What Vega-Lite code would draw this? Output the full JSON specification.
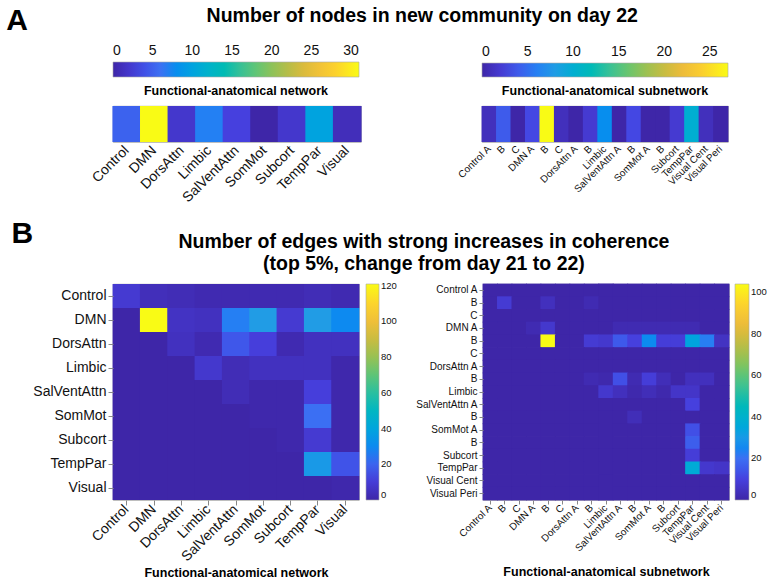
{
  "$schema": "https://vega.github.io/schema/vega-lite/v6.json",
  "background": "white",
  "padding": {"left": 6, "top": 6, "right": 0, "bottom": 0},
  "config": {
    "font": "Liberation Sans",
    "view": {"stroke": "#999", "strokeWidth": 0.8},
    "axis": {"labelColor": "#111", "domainColor": "#888", "tickColor": "#888", "labelFont": "Liberation Sans", "titleFont": "Liberation Sans", "titleColor": "#000"},
    "legend": {"labelColor": "#111", "gradientStrokeColor": "#aaa", "gradientStrokeWidth": 0.6, "labelOverlap": false, "labelFont": "Liberation Sans"},
    "title": {"font": "Liberation Sans", "color": "#000", "fontWeight": "bold"}
  },
  "datasets": {
    "networkNodes": [
      {"network": "Control", "nodes": 5},
      {"network": "DMN", "nodes": 31},
      {"network": "DorsAttn", "nodes": 2},
      {"network": "Limbic", "nodes": 7},
      {"network": "SalVentAttn", "nodes": 3},
      {"network": "SomMot", "nodes": 0},
      {"network": "Subcort", "nodes": 2},
      {"network": "TempPar", "nodes": 10},
      {"network": "Visual", "nodes": 1}
    ],
    "subnetworkNodes": [
      {"subnetwork": "Control A", "nodes": 1},
      {"subnetwork": "Control B", "nodes": 4},
      {"subnetwork": "Control C", "nodes": 0},
      {"subnetwork": "DMN A", "nodes": 3},
      {"subnetwork": "DMN B", "nodes": 27},
      {"subnetwork": "DMN C", "nodes": 1},
      {"subnetwork": "DorsAttn A", "nodes": 0},
      {"subnetwork": "DorsAttn B", "nodes": 2},
      {"subnetwork": "Limbic", "nodes": 7},
      {"subnetwork": "SalVentAttn A", "nodes": 0},
      {"subnetwork": "SalVentAttn B", "nodes": 3},
      {"subnetwork": "SomMot A", "nodes": 0},
      {"subnetwork": "SomMot B", "nodes": 0},
      {"subnetwork": "Subcort", "nodes": 2},
      {"subnetwork": "TempPar", "nodes": 10},
      {"subnetwork": "Visual Cent", "nodes": 1},
      {"subnetwork": "Visual Peri", "nodes": 0}
    ],
    "networkEdges": [
      {"row":0,"col":0,"edges":9},{"row":0,"col":1,"edges":4},{"row":0,"col":2,"edges":3},{"row":0,"col":3,"edges":2},{"row":0,"col":4,"edges":2},{"row":0,"col":5,"edges":2},{"row":0,"col":6,"edges":2},{"row":0,"col":7,"edges":3},{"row":0,"col":8,"edges":2},
      {"row":1,"col":0,"edges":0},{"row":1,"col":1,"edges":121},{"row":1,"col":2,"edges":6},{"row":1,"col":3,"edges":5},{"row":1,"col":4,"edges":27},{"row":1,"col":5,"edges":36},{"row":1,"col":6,"edges":9},{"row":1,"col":7,"edges":36},{"row":1,"col":8,"edges":30},
      {"row":2,"col":0,"edges":0},{"row":2,"col":1,"edges":0},{"row":2,"col":2,"edges":5},{"row":2,"col":3,"edges":2},{"row":2,"col":4,"edges":17},{"row":2,"col":5,"edges":11},{"row":2,"col":6,"edges":2},{"row":2,"col":7,"edges":5},{"row":2,"col":8,"edges":5},
      {"row":3,"col":0,"edges":0},{"row":3,"col":1,"edges":0},{"row":3,"col":2,"edges":0},{"row":3,"col":3,"edges":8},{"row":3,"col":4,"edges":3},{"row":3,"col":5,"edges":5},{"row":3,"col":6,"edges":5},{"row":3,"col":7,"edges":5},{"row":3,"col":8,"edges":1},
      {"row":4,"col":0,"edges":0},{"row":4,"col":1,"edges":0},{"row":4,"col":2,"edges":0},{"row":4,"col":3,"edges":0},{"row":4,"col":4,"edges":3},{"row":4,"col":5,"edges":1},{"row":4,"col":6,"edges":1},{"row":4,"col":7,"edges":11},{"row":4,"col":8,"edges":1},
      {"row":5,"col":0,"edges":0},{"row":5,"col":1,"edges":0},{"row":5,"col":2,"edges":0},{"row":5,"col":3,"edges":0},{"row":5,"col":4,"edges":0},{"row":5,"col":5,"edges":1},{"row":5,"col":6,"edges":1},{"row":5,"col":7,"edges":23},{"row":5,"col":8,"edges":1},
      {"row":6,"col":0,"edges":0},{"row":6,"col":1,"edges":0},{"row":6,"col":2,"edges":0},{"row":6,"col":3,"edges":0},{"row":6,"col":4,"edges":0},{"row":6,"col":5,"edges":0},{"row":6,"col":6,"edges":1},{"row":6,"col":7,"edges":9},{"row":6,"col":8,"edges":1},
      {"row":7,"col":0,"edges":0},{"row":7,"col":1,"edges":0},{"row":7,"col":2,"edges":0},{"row":7,"col":3,"edges":0},{"row":7,"col":4,"edges":0},{"row":7,"col":5,"edges":0},{"row":7,"col":6,"edges":0},{"row":7,"col":7,"edges":35},{"row":7,"col":8,"edges":16},
      {"row":8,"col":0,"edges":0},{"row":8,"col":1,"edges":0},{"row":8,"col":2,"edges":0},{"row":8,"col":3,"edges":0},{"row":8,"col":4,"edges":0},{"row":8,"col":5,"edges":0},{"row":8,"col":6,"edges":0},{"row":8,"col":7,"edges":0},{"row":8,"col":8,"edges":1}
    ],
    "subnetworkEdges": [
      {"row":0,"col":0,"edges":0},{"row":0,"col":1,"edges":0},{"row":0,"col":2,"edges":0},{"row":0,"col":3,"edges":0},{"row":0,"col":4,"edges":0},{"row":0,"col":5,"edges":0},{"row":0,"col":6,"edges":0},{"row":0,"col":7,"edges":0},{"row":0,"col":8,"edges":0},{"row":0,"col":9,"edges":0},{"row":0,"col":10,"edges":0},{"row":0,"col":11,"edges":0},{"row":0,"col":12,"edges":0},{"row":0,"col":13,"edges":0},{"row":0,"col":14,"edges":0},{"row":0,"col":15,"edges":0},{"row":0,"col":16,"edges":0},
      {"row":1,"col":0,"edges":0},{"row":1,"col":1,"edges":8},{"row":1,"col":2,"edges":0},{"row":1,"col":3,"edges":0},{"row":1,"col":4,"edges":4},{"row":1,"col":5,"edges":0},{"row":1,"col":6,"edges":0},{"row":1,"col":7,"edges":2},{"row":1,"col":8,"edges":0},{"row":1,"col":9,"edges":0},{"row":1,"col":10,"edges":0},{"row":1,"col":11,"edges":0},{"row":1,"col":12,"edges":0},{"row":1,"col":13,"edges":0},{"row":1,"col":14,"edges":0},{"row":1,"col":15,"edges":0},{"row":1,"col":16,"edges":0},
      {"row":2,"col":0,"edges":0},{"row":2,"col":1,"edges":0},{"row":2,"col":2,"edges":0},{"row":2,"col":3,"edges":0},{"row":2,"col":4,"edges":0},{"row":2,"col":5,"edges":0},{"row":2,"col":6,"edges":0},{"row":2,"col":7,"edges":0},{"row":2,"col":8,"edges":0},{"row":2,"col":9,"edges":0},{"row":2,"col":10,"edges":0},{"row":2,"col":11,"edges":0},{"row":2,"col":12,"edges":0},{"row":2,"col":13,"edges":0},{"row":2,"col":14,"edges":0},{"row":2,"col":15,"edges":0},{"row":2,"col":16,"edges":0},
      {"row":3,"col":0,"edges":0},{"row":3,"col":1,"edges":0},{"row":3,"col":2,"edges":0},{"row":3,"col":3,"edges":2},{"row":3,"col":4,"edges":7},{"row":3,"col":5,"edges":0},{"row":3,"col":6,"edges":0},{"row":3,"col":7,"edges":0},{"row":3,"col":8,"edges":0},{"row":3,"col":9,"edges":2},{"row":3,"col":10,"edges":2},{"row":3,"col":11,"edges":2},{"row":3,"col":12,"edges":2},{"row":3,"col":13,"edges":2},{"row":3,"col":14,"edges":2},{"row":3,"col":15,"edges":0},{"row":3,"col":16,"edges":0},
      {"row":4,"col":0,"edges":0},{"row":4,"col":1,"edges":0},{"row":4,"col":2,"edges":0},{"row":4,"col":3,"edges":0},{"row":4,"col":4,"edges":104},{"row":4,"col":5,"edges":0},{"row":4,"col":6,"edges":0},{"row":4,"col":7,"edges":8},{"row":4,"col":8,"edges":7},{"row":4,"col":9,"edges":15},{"row":4,"col":10,"edges":10},{"row":4,"col":11,"edges":26},{"row":4,"col":12,"edges":9},{"row":4,"col":13,"edges":9},{"row":4,"col":14,"edges":34},{"row":4,"col":15,"edges":23},{"row":4,"col":16,"edges":5},
      {"row":5,"col":0,"edges":0},{"row":5,"col":1,"edges":0},{"row":5,"col":2,"edges":0},{"row":5,"col":3,"edges":0},{"row":5,"col":4,"edges":0},{"row":5,"col":5,"edges":0},{"row":5,"col":6,"edges":0},{"row":5,"col":7,"edges":0},{"row":5,"col":8,"edges":0},{"row":5,"col":9,"edges":0},{"row":5,"col":10,"edges":0},{"row":5,"col":11,"edges":0},{"row":5,"col":12,"edges":0},{"row":5,"col":13,"edges":0},{"row":5,"col":14,"edges":0},{"row":5,"col":15,"edges":0},{"row":5,"col":16,"edges":0},
      {"row":6,"col":0,"edges":0},{"row":6,"col":1,"edges":0},{"row":6,"col":2,"edges":0},{"row":6,"col":3,"edges":0},{"row":6,"col":4,"edges":0},{"row":6,"col":5,"edges":0},{"row":6,"col":6,"edges":0},{"row":6,"col":7,"edges":0},{"row":6,"col":8,"edges":0},{"row":6,"col":9,"edges":0},{"row":6,"col":10,"edges":0},{"row":6,"col":11,"edges":0},{"row":6,"col":12,"edges":0},{"row":6,"col":13,"edges":0},{"row":6,"col":14,"edges":0},{"row":6,"col":15,"edges":0},{"row":6,"col":16,"edges":0},
      {"row":7,"col":0,"edges":0},{"row":7,"col":1,"edges":0},{"row":7,"col":2,"edges":0},{"row":7,"col":3,"edges":0},{"row":7,"col":4,"edges":0},{"row":7,"col":5,"edges":0},{"row":7,"col":6,"edges":0},{"row":7,"col":7,"edges":2},{"row":7,"col":8,"edges":1},{"row":7,"col":9,"edges":13},{"row":7,"col":10,"edges":2},{"row":7,"col":11,"edges":9},{"row":7,"col":12,"edges":3},{"row":7,"col":13,"edges":0},{"row":7,"col":14,"edges":4},{"row":7,"col":15,"edges":4},{"row":7,"col":16,"edges":0},
      {"row":8,"col":0,"edges":0},{"row":8,"col":1,"edges":0},{"row":8,"col":2,"edges":0},{"row":8,"col":3,"edges":0},{"row":8,"col":4,"edges":0},{"row":8,"col":5,"edges":0},{"row":8,"col":6,"edges":0},{"row":8,"col":7,"edges":0},{"row":8,"col":8,"edges":7},{"row":8,"col":9,"edges":4},{"row":8,"col":10,"edges":1},{"row":8,"col":11,"edges":3},{"row":8,"col":12,"edges":1},{"row":8,"col":13,"edges":6},{"row":8,"col":14,"edges":6},{"row":8,"col":15,"edges":0},{"row":8,"col":16,"edges":0},
      {"row":9,"col":0,"edges":0},{"row":9,"col":1,"edges":0},{"row":9,"col":2,"edges":0},{"row":9,"col":3,"edges":0},{"row":9,"col":4,"edges":0},{"row":9,"col":5,"edges":0},{"row":9,"col":6,"edges":0},{"row":9,"col":7,"edges":0},{"row":9,"col":8,"edges":0},{"row":9,"col":9,"edges":0},{"row":9,"col":10,"edges":0},{"row":9,"col":11,"edges":0},{"row":9,"col":12,"edges":0},{"row":9,"col":13,"edges":0},{"row":9,"col":14,"edges":10},{"row":9,"col":15,"edges":0},{"row":9,"col":16,"edges":0},
      {"row":10,"col":0,"edges":0},{"row":10,"col":1,"edges":0},{"row":10,"col":2,"edges":0},{"row":10,"col":3,"edges":0},{"row":10,"col":4,"edges":0},{"row":10,"col":5,"edges":0},{"row":10,"col":6,"edges":0},{"row":10,"col":7,"edges":0},{"row":10,"col":8,"edges":0},{"row":10,"col":9,"edges":0},{"row":10,"col":10,"edges":3},{"row":10,"col":11,"edges":0},{"row":10,"col":12,"edges":0},{"row":10,"col":13,"edges":0},{"row":10,"col":14,"edges":0},{"row":10,"col":15,"edges":0},{"row":10,"col":16,"edges":0},
      {"row":11,"col":0,"edges":0},{"row":11,"col":1,"edges":0},{"row":11,"col":2,"edges":0},{"row":11,"col":3,"edges":0},{"row":11,"col":4,"edges":0},{"row":11,"col":5,"edges":0},{"row":11,"col":6,"edges":0},{"row":11,"col":7,"edges":0},{"row":11,"col":8,"edges":0},{"row":11,"col":9,"edges":0},{"row":11,"col":10,"edges":0},{"row":11,"col":11,"edges":0},{"row":11,"col":12,"edges":0},{"row":11,"col":13,"edges":0},{"row":11,"col":14,"edges":13},{"row":11,"col":15,"edges":0},{"row":11,"col":16,"edges":0},
      {"row":12,"col":0,"edges":0},{"row":12,"col":1,"edges":0},{"row":12,"col":2,"edges":0},{"row":12,"col":3,"edges":0},{"row":12,"col":4,"edges":0},{"row":12,"col":5,"edges":0},{"row":12,"col":6,"edges":0},{"row":12,"col":7,"edges":0},{"row":12,"col":8,"edges":0},{"row":12,"col":9,"edges":0},{"row":12,"col":10,"edges":0},{"row":12,"col":11,"edges":0},{"row":12,"col":12,"edges":0},{"row":12,"col":13,"edges":0},{"row":12,"col":14,"edges":16},{"row":12,"col":15,"edges":0},{"row":12,"col":16,"edges":0},
      {"row":13,"col":0,"edges":0},{"row":13,"col":1,"edges":0},{"row":13,"col":2,"edges":0},{"row":13,"col":3,"edges":0},{"row":13,"col":4,"edges":0},{"row":13,"col":5,"edges":0},{"row":13,"col":6,"edges":0},{"row":13,"col":7,"edges":0},{"row":13,"col":8,"edges":0},{"row":13,"col":9,"edges":0},{"row":13,"col":10,"edges":0},{"row":13,"col":11,"edges":0},{"row":13,"col":12,"edges":0},{"row":13,"col":13,"edges":0},{"row":13,"col":14,"edges":9},{"row":13,"col":15,"edges":0},{"row":13,"col":16,"edges":0},
      {"row":14,"col":0,"edges":0},{"row":14,"col":1,"edges":0},{"row":14,"col":2,"edges":0},{"row":14,"col":3,"edges":0},{"row":14,"col":4,"edges":0},{"row":14,"col":5,"edges":0},{"row":14,"col":6,"edges":0},{"row":14,"col":7,"edges":0},{"row":14,"col":8,"edges":0},{"row":14,"col":9,"edges":0},{"row":14,"col":10,"edges":0},{"row":14,"col":11,"edges":0},{"row":14,"col":12,"edges":0},{"row":14,"col":13,"edges":0},{"row":14,"col":14,"edges":37},{"row":14,"col":15,"edges":7},{"row":14,"col":16,"edges":6},
      {"row":15,"col":0,"edges":0},{"row":15,"col":1,"edges":0},{"row":15,"col":2,"edges":0},{"row":15,"col":3,"edges":0},{"row":15,"col":4,"edges":0},{"row":15,"col":5,"edges":0},{"row":15,"col":6,"edges":0},{"row":15,"col":7,"edges":0},{"row":15,"col":8,"edges":0},{"row":15,"col":9,"edges":0},{"row":15,"col":10,"edges":0},{"row":15,"col":11,"edges":0},{"row":15,"col":12,"edges":0},{"row":15,"col":13,"edges":0},{"row":15,"col":14,"edges":0},{"row":15,"col":15,"edges":0},{"row":15,"col":16,"edges":0},
      {"row":16,"col":0,"edges":0},{"row":16,"col":1,"edges":0},{"row":16,"col":2,"edges":0},{"row":16,"col":3,"edges":0},{"row":16,"col":4,"edges":0},{"row":16,"col":5,"edges":0},{"row":16,"col":6,"edges":0},{"row":16,"col":7,"edges":0},{"row":16,"col":8,"edges":0},{"row":16,"col":9,"edges":0},{"row":16,"col":10,"edges":0},{"row":16,"col":11,"edges":0},{"row":16,"col":12,"edges":0},{"row":16,"col":13,"edges":0},{"row":16,"col":14,"edges":0},{"row":16,"col":15,"edges":0},{"row":16,"col":16,"edges":0}
    ]
  },
  "resolve": {"scale": {"color": "independent"}, "legend": {"color": "independent"}},
  "spacing": 12,
  "vconcat": [
    {
      "title": {"text": "A", "orient": "left", "angle": 0, "anchor": "end", "align": "right", "baseline": "top", "fontSize": 30, "offset": 39.5, "frame": "bounds"},
      "resolve": {"scale": {"color": "independent"}, "legend": {"color": "independent"}},
      "vconcat": [
        {
          "title": {"text": "Number of nodes in new community on day 22", "fontSize": 19.5, "anchor": "middle", "dx": 13, "offset": 35},
          "resolve": {"scale": {"color": "independent"}, "legend": {"color": "independent"}},
          "spacing": 93,
          "hconcat": [
            {
              "width": 248, "height": 36,
              "data": {"name": "networkNodes"},
              "mark": {"type": "rect", "width": {"band": 1.04}},
              "encoding": {
                "x": {"field": "network", "type": "nominal", "sort": null, "axis": {"title": null, "labelAngle": -45, "labelAlign": "right", "labelBaseline": "middle", "labelFontSize": 14, "ticks": false, "domain": false, "labelPadding": 6}},
                "color": {"field": "nodes", "type": "quantitative",
                  "scale": {"domain": [0, 31], "range": ["#3e26a8", "#4641e0", "#3c74f4", "#239de4", "#10b4c6", "#2ebf9e", "#6dc56b", "#b0bd4a", "#eab93c", "#fcd02e", "#f9fb15"]},
                  "legend": {"orient": "top", "direction": "horizontal", "title": "Functional-anatomical network", "titleOrient": "bottom", "titleAnchor": "middle", "titleFont": "Liberation Sans", "titleFontSize": 12.5, "titleFontWeight": "bold", "titleColor": "#000", "titleLimit": 400, "titlePadding": 8, "gradientLength": 246, "gradientThickness": 15, "values": [0, 5, 10, 15, 20, 25, 30], "labelFontSize": 14, "labelOffset": -33, "labelAlign": "center", "offset": 8}}
              }
            },
            {
              "width": 246, "height": 36,
              "data": {"name": "subnetworkNodes"},
              "mark": {"type": "rect", "width": {"band": 1.06}},
              "encoding": {
                "x": {"field": "subnetwork", "type": "nominal", "sort": null, "axis": {"title": null, "labelAngle": -45, "labelAlign": "right", "labelBaseline": "middle", "labelFontSize": 10, "ticks": false, "domain": false, "labelPadding": 5,
                  "labelExpr": "slice(datum.label, -2) == ' B' || slice(datum.label, -2) == ' C' ? slice(datum.label, -1) : datum.label"}},
                "color": {"field": "nodes", "type": "quantitative",
                  "scale": {"domain": [0, 27], "range": ["#3e26a8", "#4641e0", "#3c74f4", "#239de4", "#10b4c6", "#2ebf9e", "#6dc56b", "#b0bd4a", "#eab93c", "#fcd02e", "#f9fb15"]},
                  "legend": {"orient": "top", "direction": "horizontal", "title": "Functional-anatomical subnetwork", "titleOrient": "bottom", "titleAnchor": "middle", "titleFont": "Liberation Sans", "titleFontSize": 12.5, "titleFontWeight": "bold", "titleColor": "#000", "titleLimit": 400, "titlePadding": 8, "gradientLength": 246, "gradientThickness": 14, "values": [0, 5, 10, 15, 20, 25], "labelFontSize": 14, "labelOffset": -32, "labelAlign": "center", "offset": 8}}
              }
            }
          ]
        }
      ]
    },
    {
      "title": {"text": "B", "orient": "left", "angle": 0, "anchor": "end", "align": "right", "baseline": "top", "fontSize": 30, "offset": -22.5, "dy": -13, "frame": "bounds"},
      "resolve": {"scale": {"color": "independent"}, "legend": {"color": "independent"}},
      "vconcat": [
        {
          "title": {"text": ["Number of edges with strong increases in coherence", "(top 5%, change from day 21 to 22)"], "fontSize": 19.5, "lineHeight": 22, "anchor": "middle", "dx": 24, "offset": 9},
          "resolve": {"scale": {"color": "independent"}, "legend": {"color": "independent"}},
          "spacing": 16,
          "hconcat": [
            {
              "width": 246, "height": 216,
              "data": {"name": "networkEdges"},
              "mark": {"type": "rect", "width": {"band": 1.03}},
              "encoding": {
                "x": {"field": "col", "type": "ordinal", "axis": {"title": "Functional-anatomical network", "titleFontSize": 12.5, "titleFontWeight": "bold", "titlePadding": 3,
                  "labelExpr": "['Control','DMN','DorsAttn','Limbic','SalVentAttn','SomMot','Subcort','TempPar','Visual'][datum.value]",
                  "labelAngle": -45, "labelAlign": "right", "labelBaseline": "middle", "labelFontSize": 14, "tickSize": 5, "domain": false}},
                "y": {"field": "row", "type": "ordinal", "axis": {"title": null,
                  "labelExpr": "['Control','DMN','DorsAttn','Limbic','SalVentAttn','SomMot','Subcort','TempPar','Visual'][datum.value]",
                  "labelFontSize": 14, "tickSize": 5, "domain": false}},
                "color": {"field": "edges", "type": "quantitative",
                  "scale": {"domain": [0, 121], "range": ["#3e26a8", "#4641e0", "#3c74f4", "#239de4", "#10b4c6", "#2ebf9e", "#6dc56b", "#b0bd4a", "#eab93c", "#fcd02e", "#f9fb15"]},
                  "legend": {"orient": "right", "title": null, "gradientLength": 216, "gradientThickness": 13, "values": [0, 20, 40, 60, 80, 100, 120], "labelFontSize": 9.5, "labelBaseline": "middle", "offset": 7}}
              }
            },
            {
              "width": 246, "height": 216,
              "data": {"name": "subnetworkEdges"},
              "mark": {"type": "rect", "width": {"band": 1.06}, "height": {"band": 1.06}},
              "encoding": {
                "x": {"field": "col", "type": "ordinal", "axis": {"title": "Functional-anatomical subnetwork", "titleFontSize": 12.5, "titleFontWeight": "bold", "titlePadding": 12,
                  "labelExpr": "['Control A','B','C','DMN A','B','C','DorsAttn A','B','Limbic','SalVentAttn A','B','SomMot A','B','Subcort','TempPar','Visual Cent','Visual Peri'][datum.value]",
                  "labelAngle": -45, "labelAlign": "right", "labelBaseline": "middle", "labelFontSize": 10, "tickSize": 4, "domain": false}},
                "y": {"field": "row", "type": "ordinal", "axis": {"title": null,
                  "labelExpr": "['Control A','B','C','DMN A','B','C','DorsAttn A','B','Limbic','SalVentAttn A','B','SomMot A','B','Subcort','TempPar','Visual Cent','Visual Peri'][datum.value]",
                  "labelFontSize": 10, "tickSize": 4, "domain": false}},
                "color": {"field": "edges", "type": "quantitative",
                  "scale": {"domain": [0, 104], "range": ["#3e26a8", "#4641e0", "#3c74f4", "#239de4", "#10b4c6", "#2ebf9e", "#6dc56b", "#b0bd4a", "#eab93c", "#fcd02e", "#f9fb15"]},
                  "legend": {"orient": "right", "title": null, "gradientLength": 216, "gradientThickness": 14, "values": [0, 20, 40, 60, 80, 100], "labelFontSize": 9.5, "labelBaseline": "middle", "offset": 6}}
              }
            }
          ]
        }
      ]
    }
  ]
}
